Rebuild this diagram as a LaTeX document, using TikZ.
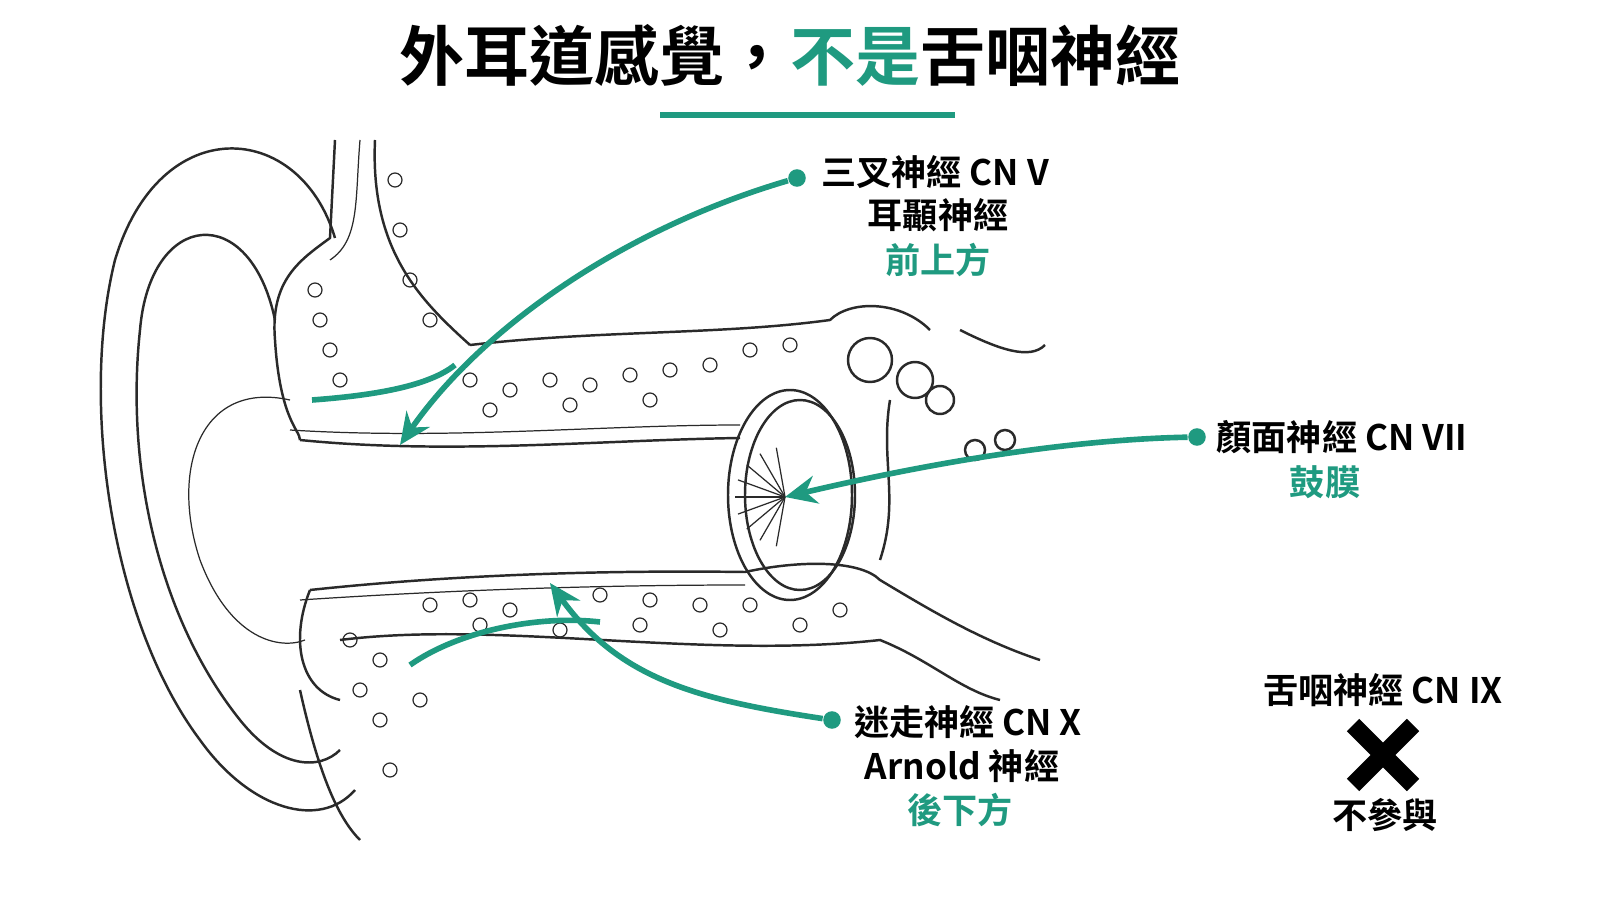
\documentclass[tikz,border=0pt]{standalone}
\usepackage{fontspec}
\setmainfont{Noto Sans CJK TC}[BoldFont={* Bold}]
\usetikzlibrary{arrows.meta,calc}
\definecolor{nervegreen}{HTML}{1F9A80}
\definecolor{inkgray}{HTML}{2A2A2A}

\begin{document}
\begin{tikzpicture}[
            x = 0.1mm, y = -0.1mm,
            outline/.style = {draw = inkgray, line width = 0.7pt},
            thin/.style = {draw = inkgray, line width = 0.35pt},
            pore/.style = {draw = inkgray, line width = 0.35pt},
            nerve/.style = {draw = nervegreen, line width = 1.6pt},
            nervearrow/.style = {nerve, -{Stealth[length=9pt, width=8pt]}},
            dot/.style = {circle, fill = nervegreen, inner sep = 0pt, minimum size = 5pt},
            label/.style = {font = \bfseries\fontsize{10}{12}\selectfont, text = black},
            sublabel/.style = {font = \bfseries\fontsize{10}{12}\selectfont, text = nervegreen}
            ]
            \useasboundingbox[fill = white] (0,0) rectangle (1600,900);

            % title
            \node[font = \bfseries\fontsize{18.5}{22}\selectfont] (title) at (790,55)
                {外耳道感覺，\textcolor{nervegreen}{不是}舌咽神經};
            \draw[nervegreen, line width = 1.5pt] (660,115) -- (955,115);

            % auricle
            \draw[outline] (335,238) .. controls (300,120) and (160,110) .. (115,260)
                .. controls (80,400) and (110,620) .. (200,740)
                .. controls (250,810) and (320,830) .. (355,790);
            \draw[outline] (275,320) .. controls (250,200) and (150,210) .. (140,330)
                .. controls (125,470) and (160,620) .. (240,720)
                .. controls (280,770) and (320,770) .. (340,750);
            \draw[thin] (290,400) .. controls (200,380) and (170,470) .. (200,560)
                .. controls (230,640) and (280,650) .. (305,640);

            % vertical bone band
            \draw[outline] (335,140) -- (330,238) .. controls (300,260) and (270,280) .. (275,340)
                .. controls (280,420) and (300,430) .. (300,440);
            \draw[outline] (375,140) .. controls (370,250) and (420,300) .. (470,345);
            \draw[thin] (360,140) .. controls (355,200) and (360,240) .. (330,260);

            % canal walls
            \draw[outline] (300,440) .. controls (450,455) and (600,440) .. (740,438);
            \draw[outline] (310,590) .. controls (450,575) and (600,570) .. (745,572);
            \draw[thin] (290,430) .. controls (450,440) and (600,425) .. (740,425);
            \draw[thin] (300,600) .. controls (450,590) and (600,585) .. (745,585);

            % bone bands
            \draw[outline] (470,345) .. controls (600,330) and (720,335) .. (830,320)
                .. controls (850,300) and (900,300) .. (930,330);
            \draw[outline] (310,590) .. controls (290,640) and (300,690) .. (340,700);
            \draw[outline] (340,640) .. controls (500,620) and (700,660) .. (880,640)
                .. controls (930,660) and (960,690) .. (1000,700);
            \draw[outline] (745,572) .. controls (800,560) and (860,560) .. (880,580)
                .. controls (930,610) and (980,640) .. (1040,660);
            \draw[outline] (300,690) .. controls (320,780) and (340,820) .. (360,840);

            % pores
            \foreach \px/\py in {315/290, 320/320, 330/350, 340/380, 395/180, 400/230,
                    410/280, 430/320, 470/380, 510/390, 550/380, 590/385, 630/375,
                    670/370, 710/365, 750/350, 790/345, 490/410, 570/405, 650/400,
                    350/640, 380/660, 430/605, 470/600, 510/610, 600/595, 650/600,
                    700/605, 750/605, 800/625, 840/610, 380/720, 390/770, 420/700,
                    480/625, 560/630, 640/625, 720/630, 360/690}
                \draw[pore] (\px,\py) circle (7);

            % tympanic membrane
            \draw[outline] (790,495) ellipse (62 and 105);
            \draw[outline] (800,495) ellipse (55 and 95);
            \foreach \a in {100,120,...,260}
                \draw[thin] (785,497) -- ++(\a:50);

            % ossicles and middle ear
            \draw[outline] (870,360) circle (22);
            \draw[outline] (915,380) circle (18);
            \draw[outline] (940,400) circle (14);
            \draw[outline] (890,400) .. controls (880,460) and (900,500) .. (880,560);
            \draw[outline] (975,450) circle (10);
            \draw[outline] (1005,440) circle (10);
            \draw[outline] (960,330) .. controls (1000,350) and (1030,360) .. (1045,345);

            % nerve V
            \node[dot] (dotV) at (797,178) {};
            \node[label] (cnV) at (935,172) {三叉神經 CN V};
            \node[label] (auric) at (938,215) {耳顳神經};
            \node[sublabel] (antsup) at (938,260) {前上方};
            \coordinate (tipVa) at (400,445);
            \coordinate (tipVb) at (312,400);
            \coordinate (forkV) at (455,365);
            \draw[nervearrow] (dotV) .. controls (620,230) and (480,330) .. (tipVa);
            \draw[nerve] (forkV) .. controls (430,385) and (380,395) .. (tipVb);

            % nerve VII
            \node[dot] (dotVII) at (1197,437) {};
            \node[label] (cnVII) at (1342,437) {顏面神經 CN VII};
            \node[sublabel] (tymp) at (1325,482) {鼓膜};
            \coordinate (tipVII) at (785,497);
            \draw[nervearrow] (dotVII) .. controls (1050,440) and (900,470) .. (tipVII);

            % nerve X
            \node[dot] (dotX) at (832,720) {};
            \node[label] (cnX) at (968,722) {迷走神經 CN X};
            \node[label] (arnold) at (962,766) {Arnold 神經};
            \node[sublabel] (postinf) at (960,810) {後下方};
            \coordinate (tipX) at (550,583);
            \coordinate (forkX) at (600,622);
            \coordinate (endX) at (410,665);
            \draw[nervearrow] (dotX) .. controls (700,700) and (620,680) .. (tipX);
            \draw[nerve] (forkX) .. controls (540,615) and (460,630) .. (endX);

            % nerve IX
            \node[label] (cnIX) at (1383,690) {舌咽神經 CN IX};
            \coordinate (cross) at (1383,755);
            \draw[black, line width = 5pt] ($(cross)+(-30,-30)$) -- ($(cross)+(30,30)$)
                ($(cross)+(30,-30)$) -- ($(cross)+(-30,30)$);
            \node[label] (nopart) at (1385,815) {不參與};
        \end{tikzpicture}
\end{document}
